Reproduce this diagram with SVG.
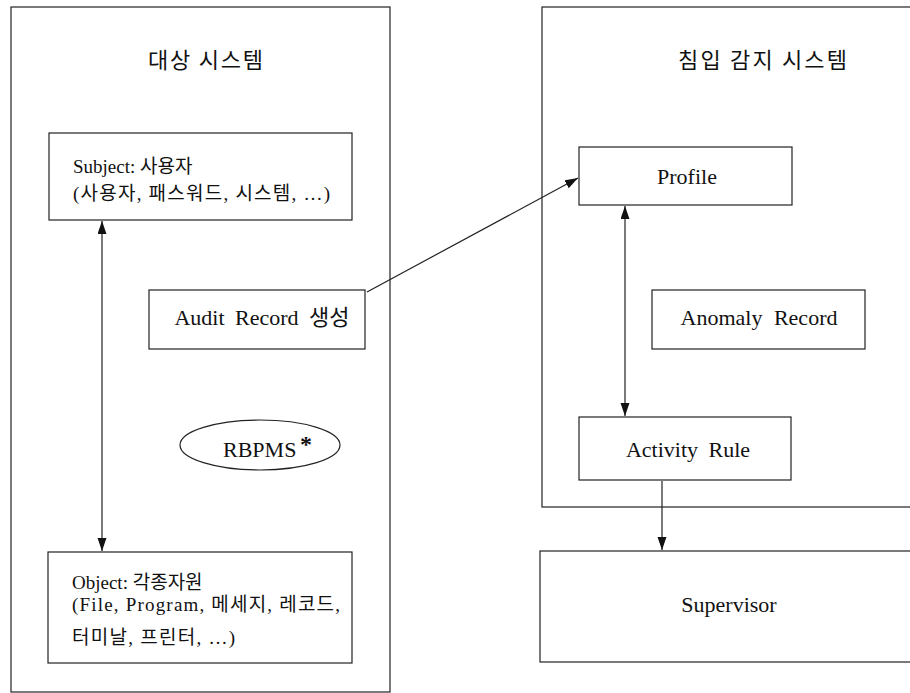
<svg xmlns="http://www.w3.org/2000/svg" width="910" height="693" viewBox="0 0 910 693">
<style>
.box{fill:#fff;stroke:#222;stroke-width:1.2}
.ln{fill:none;stroke:#222;stroke-width:1.2}
text{font-family:"Liberation Serif","Noto Sans CJK KR",serif;fill:#111}
.t{font-size:22px;font-family:"Noto Sans CJK KR","Liberation Sans",sans-serif}
.m{font-size:22px}
.s{font-size:19px}
</style>
<defs>
<marker id="ah" markerUnits="userSpaceOnUse" markerWidth="14" markerHeight="10" refX="13" refY="4.5" orient="auto-start-reverse">
<path d="M0,0 L13,4.5 L0,9 z" fill="#111"/>
</marker>
</defs>
<rect width="910" height="693" fill="#fff"/>
<g id="target-system">
<rect class="box" x="11" y="7" width="379" height="685"/>
<text class="t" x="148" y="68" textLength="115" lengthAdjust="spacing">대상 시스템</text>
</g>
<g id="ids-system">
<rect class="box" x="542" y="7" width="400" height="500"/>
<text class="t" x="678" y="68" textLength="169" lengthAdjust="spacing">침입 감지 시스템</text>
</g>
<g id="subject">
<rect class="box" x="49" y="133" width="303" height="87"/>
<text class="s" x="73" y="173">Subject: 사용자</text>
<text class="s" x="73" y="200" textLength="257" lengthAdjust="spacing">(사용자, 패스워드, 시스템, …)</text>
</g>
<g id="audit">
<rect class="box" x="149" y="290" width="216" height="59"/>
<text class="m" x="262" y="325" text-anchor="middle" word-spacing="5">Audit Record 생성</text>
</g>
<g id="rbpms">
<ellipse class="box" cx="260" cy="445" rx="80" ry="25"/>
<text class="m" x="223" y="457">RBPMS</text>
<text x="300" y="452" font-size="24" font-weight="bold">*</text>
</g>
<g id="object">
<rect class="box" x="48" y="552" width="304" height="111"/>
<text class="s" x="72" y="589">Object: 각종자원</text>
<text class="s" x="72" y="611" textLength="268" lengthAdjust="spacing">(File, Program, 메세지, 레코드,</text>
<text class="s" x="72" y="644" textLength="163" lengthAdjust="spacing">터미날, 프린터, …)</text>
</g>
<g id="profile">
<rect class="box" x="579" y="147" width="213" height="58"/>
<text class="m" x="687" y="184" text-anchor="middle">Profile</text>
</g>
<g id="anomaly">
<rect class="box" x="652" y="290" width="213" height="59"/>
<text class="m" x="759" y="325" text-anchor="middle" word-spacing="6">Anomaly Record</text>
</g>
<g id="activity">
<rect class="box" x="579" y="417" width="212" height="63"/>
<text class="m" x="688" y="457" text-anchor="middle" word-spacing="5">Activity Rule</text>
</g>
<g id="supervisor">
<rect class="box" x="540" y="551" width="400" height="111"/>
<text class="m" x="729" y="612" text-anchor="middle">Supervisor</text>
</g>
<g id="connectors">
<line class="ln" x1="102" y1="221" x2="102" y2="551" marker-start="url(#ah)" marker-end="url(#ah)"/>
<line class="ln" x1="367" y1="292" x2="578" y2="178" marker-end="url(#ah)"/>
<line class="ln" x1="625" y1="206" x2="625" y2="416" marker-start="url(#ah)" marker-end="url(#ah)"/>
<line class="ln" x1="662" y1="481" x2="662" y2="550" marker-end="url(#ah)"/>
</g>
</svg>
